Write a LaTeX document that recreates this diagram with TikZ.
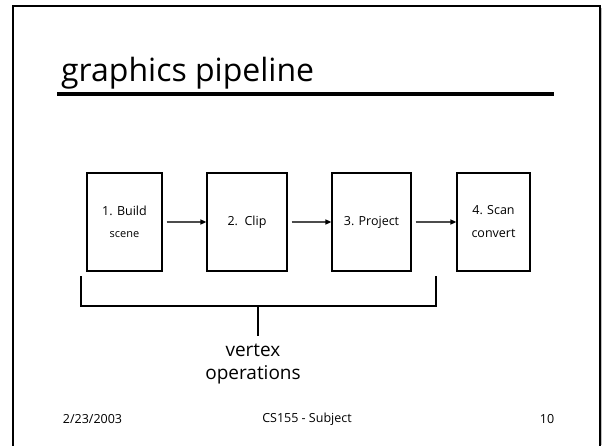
\documentclass[tikz,border=0pt]{standalone}
\usepackage{fontspec}
\setmainfont{Open Sans}
\usetikzlibrary{arrows.meta}
\begin{document}
\begin{tikzpicture}[x=1pt,y=-1pt,
  stage/.style={draw, line width=1.2pt, minimum height=98pt, inner sep=0pt,
    align=center, font=\fontsize{12.5}{23}\selectfont},
  flow/.style={draw=black!70, line width=1.3pt, shorten <=4pt,
    -{Triangle[length=6pt,width=5pt,color=black]}},
  brace/.style={line width=2pt, line cap=butt},
  footer/.style={anchor=center, inner sep=0pt, font=\fontsize{12.5}{14}\selectfont}
]
\useasboundingbox (0,0) rectangle (602,445);

% slide frame
\begin{scope}
  \clip (0,0) rectangle (602,445);
  \draw[line width=2pt] (13,6) rectangle (600,460);
  \draw[black!25, line width=1pt] (601.5,8) -- (601.5,445);
\end{scope}

% title and rule
\node[anchor=base west, inner sep=0pt, font=\fontsize{32}{38}\selectfont]
  (title) at (61,81) {graphics pipeline};
\coordinate (ruleL) at (57,93.5);
\coordinate (ruleR) at (554,93.5);
\draw[line width=4pt] (ruleL) -- (ruleR);

% pipeline stages
\node[stage, minimum width=75pt] (build) at (124.5,222)
  {1. Build\\[-1pt]{\fontsize{11}{12}\selectfont scene}};
\node[stage, minimum width=80pt] (clip) at (247,222) {2.\ \ Clip};
\node[stage, minimum width=79pt] (project) at (371.5,222) {3. Project};
\node[stage, minimum width=73pt] (scan) at (493.5,222) {4. Scan\\convert};

\draw[flow] (build) -- (clip);
\draw[flow] (clip) -- (project);
\draw[flow] (project) -- (scan);

% bracket grouping the vertex stages
\coordinate (bl) at (81,276);
\coordinate (blc) at (81,306);
\coordinate (brc) at (436,306);
\coordinate (br) at (436,276);
\coordinate (stemTop) at (258,306);
\coordinate (stemEnd) at (258,336);
\draw[brace] (bl) -- (blc) -- (brc) -- (br);
\draw[brace] (stemTop) -- (stemEnd);

\node[align=center, inner sep=0pt, font=\fontsize{19}{23}\selectfont]
  (vertex) at (253,364) {vertex\\operations};

% footer
\node[footer] (date) at (92.5,419) {2/23/2003};
\node[footer] (course) at (307,419) {CS155 - Subject};
\node[footer] (page) at (547,419) {10};
\end{tikzpicture}
\end{document}
